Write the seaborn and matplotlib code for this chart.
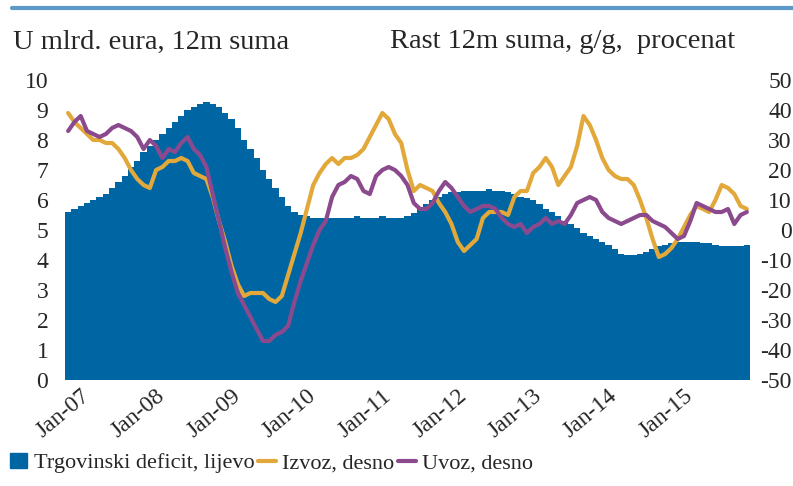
import numpy as np
import pandas as pd
import matplotlib
matplotlib.use('Agg')
import matplotlib.pyplot as plt
import matplotlib.transforms as mtransforms
import seaborn as sns
from matplotlib.patches import Patch
from matplotlib.lines import Line2D

sns.set_style('white')
plt.rcParams['font.family'] = ['Liberation Serif', 'DejaVu Serif']
plt.rcParams['axes.unicode_minus'] = False

# Monthly data, Jan-07 .. Jan-16
months = pd.date_range('2007-01-01', periods=109, freq='MS')

deficit = [5.6, 5.7, 5.8, 5.9, 6.0, 6.1, 6.2, 6.4, 6.6, 6.8, 7.1, 7.3,
           7.6, 7.8, 8.0, 8.2, 8.4, 8.6, 8.8, 9.0, 9.1, 9.2, 9.25, 9.2,
           9.1, 8.9, 8.7, 8.4, 8.0, 7.7, 7.4, 7.0, 6.7, 6.4, 6.1, 5.8,
           5.6, 5.5, 5.45, 5.4, 5.4, 5.4, 5.4, 5.4, 5.4, 5.4, 5.45, 5.4,
           5.4, 5.4, 5.45, 5.4, 5.4, 5.4, 5.45, 5.55, 5.7, 5.85, 6.0, 6.1,
           6.2, 6.25, 6.25, 6.3, 6.3, 6.3, 6.3, 6.35, 6.3, 6.3, 6.25, 6.2,
           6.1, 6.05, 6.0, 5.85, 5.7, 5.6, 5.45, 5.3, 5.2, 5.05, 4.9, 4.8,
           4.7, 4.6, 4.5, 4.35, 4.2, 4.15, 4.15, 4.2, 4.25, 4.35, 4.45, 4.5,
           4.55, 4.6, 4.6, 4.6, 4.6, 4.55, 4.55, 4.5, 4.45, 4.45, 4.45, 4.45,
           4.5]

izvoz = [39, 36, 34, 32, 30, 30, 29, 29, 27, 24, 20, 17,
         15, 14, 20, 21, 23, 23, 24, 23, 19, 18, 17, 11,
         3, -4, -12, -18, -22, -21, -21, -21, -23, -24, -22, -15,
         -8, -1, 7, 15, 19, 22, 24, 22, 24, 24, 25, 27,
         31, 35, 39, 37, 32, 29, 20, 13, 15, 14, 13, 9,
         6, 2, -4, -7, -5, -3, 4, 6, 6, 6, 5, 11,
         13, 13, 19, 21, 24, 21, 15, 18, 21, 28, 38, 35,
         30, 24, 20, 18, 17, 17, 15, 10, 4, -3, -9, -8,
         -6, -3, 1, 5, 8, 7, 6, 10, 15, 14, 12, 8,
         7]

uvoz = [33, 36, 38, 33, 32, 31, 32, 34, 35, 34, 33, 31,
        27, 30, 28, 24, 27, 26, 29, 31, 27, 25, 21, 12,
        3, -6, -14, -21, -25, -29, -33, -37, -37, -35, -34, -32,
        -24, -17, -11, -5, 0, 3, 11, 15, 16, 18, 17, 13,
        12, 18, 20, 21, 20, 18, 15, 9, 7, 7, 9, 13,
        16, 14, 11, 8, 6, 7, 8, 8, 7, 4, 2, 1,
        2, -1, 1, 2, 4, 2, 3, 2, 5, 9, 10, 11,
        10, 6, 4, 3, 2, 3, 4, 5, 5, 3, 2, 1,
        -1, -3, -2, 3, 9, 8, 7, 6, 6, 7, 2, 5,
        6]

tick_labels = ['Jan-07', 'Jan-08', 'Jan-09', 'Jan-10', 'Jan-11',
               'Jan-12', 'Jan-13', 'Jan-14', 'Jan-15']

BLUE = '#0066a3'
ORANGE = '#e2a83a'
PURPLE = '#8b4a8e'

df = pd.DataFrame({'m': np.arange(len(months)), 'deficit': deficit,
                   'izvoz': izvoz, 'uvoz': uvoz})

fig = plt.figure(figsize=(7.93, 4.86), dpi=100)
ax = fig.add_axes([65 / 793, 106 / 486, 685 / 793, 300 / 486])

sns.barplot(data=df, x='m', y='deficit', native_scale=True, width=1,
            color=BLUE, saturation=1, linewidth=0, ax=ax)
ax.set_xlim(-0.5, len(months) - 0.5)
ax.set_ylim(0, 10)
ax.set_yticks(range(0, 11))
ax.set_xticks(range(0, 97, 12))
ax.set_xticklabels(tick_labels, rotation=40, ha='right', rotation_mode='anchor')
ax.set_xlabel('')
ax.set_ylabel('')
ax.tick_params(axis='both', length=0, labelsize=17)
ax.tick_params(axis='y', pad=12)
ax.tick_params(axis='x', pad=4)
shift = mtransforms.ScaledTranslation(12 / 100, 0, fig.dpi_scale_trans)
for lab in ax.get_xticklabels():
    lab.set_transform(lab.get_transform() + shift)

ax2 = ax.twinx()
sns.lineplot(data=df, x='m', y='izvoz', color=ORANGE, lw=3, ax=ax2)
sns.lineplot(data=df, x='m', y='uvoz', color=PURPLE, lw=3, ax=ax2)
ax2.set_ylim(-50, 50)
ax2.set_yticks(range(-50, 51, 10))
ax2.set_ylabel('')
ax2.tick_params(axis='y', length=0, labelsize=17, pad=30)
for lab in ax2.get_yticklabels():
    lab.set_ha('right')

for a in (ax, ax2):
    for s in a.spines.values():
        s.set_visible(False)

fig.text(13 / 793, 1 - 42 / 486, 'U mlrd. eura, 12m suma', fontsize=20.5, va='center')
fig.text(390 / 793, 1 - 42 / 486, 'Rast 12m suma, g/g,  procenat', fontsize=20.5, va='center')
fig.add_artist(Line2D([12 / 793, 1], [1 - 8 / 486, 1 - 8 / 486], color='#5b9ac6', lw=3))

handles = [Patch(color=BLUE), Line2D([], [], color=ORANGE, lw=3), Line2D([], [], color=PURPLE, lw=3)]
fig.legend(handles, ['Trgovinski deficit, lijevo', 'Izvoz, desno', 'Uvoz, desno'],
           loc='center left', bbox_to_anchor=(0.012, 1 - 463 / 486), ncol=3, frameon=False,
           fontsize=16, handlelength=0.8, handletextpad=0.3, columnspacing=0.15,
           borderpad=0, borderaxespad=0)

fig.savefig('out.png', dpi=100)
